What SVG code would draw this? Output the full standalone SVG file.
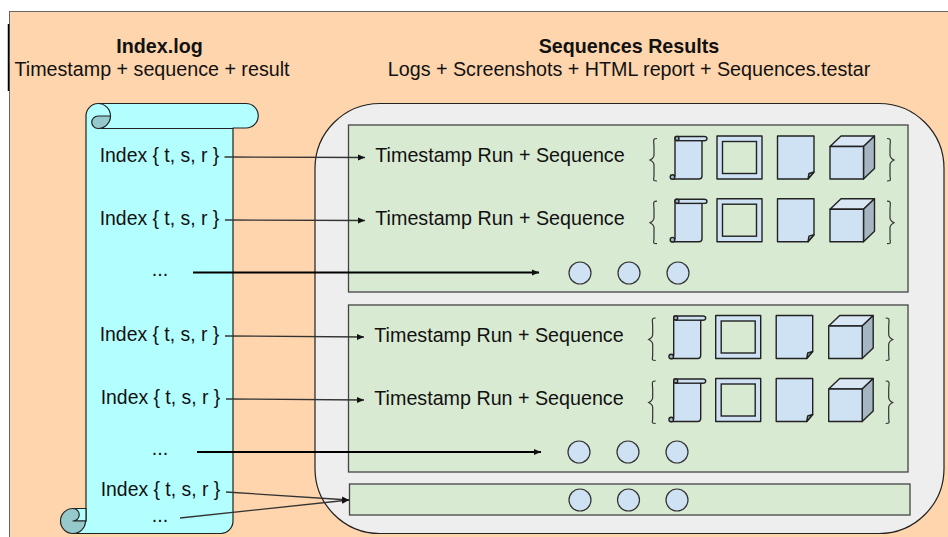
<svg xmlns="http://www.w3.org/2000/svg" width="948" height="537" viewBox="0 0 948 537">
<style>
text{font-family:"Liberation Sans",Arial,sans-serif;font-size:19.7px;fill:#111;text-anchor:middle}
.b{font-weight:bold}
.i{font-size:19.4px}
.s{stroke:#222;stroke-width:1.4;stroke-linejoin:round}
.ic{fill:#cfe2f3}
.dk{fill:#a5b5c2}
.lt{fill:#d9e7f5}
.g{fill:#d9ead3;stroke:#444;stroke-width:1.3}
.c{fill:#cfe2f3;stroke:#333;stroke-width:1.2}
.br{fill:none;stroke:#333;stroke-width:1.2}
.l{fill:none;stroke:#333;stroke-width:1.3}
.h{fill:none;stroke:#000;stroke-width:2}
.sc{stroke:#222;stroke-width:1.200;stroke-linejoin:round}
</style>
<defs>
<marker id="a" markerUnits="userSpaceOnUse" markerWidth="8" markerHeight="8" refX="7" refY="3.500" orient="auto"><path d="M0 0.500L7 3.500L0 6.500Z" fill="#111"/></marker>
<g id="row">
<path class="br" d="M657 138.500C652 138.500 654 141 654 147L654 155C654 158 652 159 650 160C652 161 654 162 654 165L654 175C654 180 652 181 657 181"/>
<path class="br" d="M887 138.500C892 138.500 890 141 890 147L890 155C890 158 892 159 894 160C892 161 890 162 890 165L890 175C890 180 892 181 887 181"/>
<path class="s ic" d="M676 136.500L704 136.500Q707 136.500 707 138.500Q707 140.700 704 140.700L702 140.700L702 176Q702 179 699 179L672 179L675 176L675 138Q675 136.500 676 136.500Z"/>
<path class="s" fill="none" d="M676 140.700L702 140.700"/>
<circle class="s dk" cx="677" cy="138.500" r="2"/>
<circle class="s dk" cx="672.500" cy="177" r="2.300"/>
<rect class="s ic" x="717" y="136" width="45" height="43"/>
<rect x="722.500" y="141.500" width="34" height="32" fill="#d9ead3" stroke="#222" stroke-width="1.400"/>
<path class="s ic" d="M777.500 136L814 136L814 172L808 179L777.500 179Z"/>
<path class="s dk" d="M814 172L809 173.500L808 179Z"/>
<path class="s lt" d="M830 146.500L841 136L874.500 136L863.500 146.500Z"/>
<path class="s dk" d="M863.500 146.500L874.500 136L874.500 168.500L863.500 179Z"/>
<rect class="s ic" x="830" y="146.500" width="33.500" height="32.500"/>
</g>
</defs>
<rect x="9.500" y="11.500" width="945" height="535" fill="#ffd5ad" stroke="#666" stroke-width="1"/>
<path d="M8.500 24V91" stroke="#000" stroke-width="1.500"/>
<g id="header-left"><text class="b" x="159.500" y="53">Index.log</text><text x="152" y="76">Timestamp + sequence + result</text></g>
<g id="header-right"><text class="b" x="629" y="53">Sequences Results</text><text x="629" y="76">Logs + Screenshots + HTML report + Sequences.testar</text></g>
<g id="index-log">
<path class="sc" fill="#b3ffff" d="M98 103.500L246 103.500A12.250 12.250 0 0 1 246 128L233 128L233 521A12.500 12.500 0 0 1 221 533.500L73 533.500L86 521L86 116A12.500 12.500 0 0 1 98 103.500Z"/>
<path class="sc" fill="none" d="M98 103.500A12.500 12.500 0 0 1 110.500 116M98 128.500L233 128.500"/>
<path class="sc" fill="#95c9cc" d="M98 116L110.500 116A12.500 12.500 0 0 1 98 128.500A6.250 6.250 0 0 1 98 116Z"/>
<path class="sc" fill="#b3ffff" d="M73 508.500L86 508.500L86 521L73 521Z"/>
<path class="sc" fill="#95c9cc" d="M73 508.500A12.500 12.500 0 1 0 85.500 521L73 521A6.250 6.250 0 0 0 73 508.500Z"/>
<text class="i" x="159.500" y="162">Index { t, s, r }</text>
<text class="i" x="159.500" y="225">Index { t, s, r }</text>
<text x="160" y="276">...</text>
<text class="i" x="159.500" y="341">Index { t, s, r }</text>
<text class="i" x="160.500" y="404">Index { t, s, r }</text>
<text x="160" y="455">...</text>
<text class="i" x="160.500" y="496">Index { t, s, r }</text>
<text x="160" y="522">...</text>
</g>
<g id="results">
<rect x="315" y="103.500" width="629" height="430" rx="65" ry="65" fill="#eeeeee" stroke="#222" stroke-width="1.200"/>
</g>
<g id="panel-1"><rect class="g" x="348.500" y="125" width="559.500" height="167"/>
<text x="500" y="162">Timestamp Run + Sequence</text><text x="500" y="225">Timestamp Run + Sequence</text>
<use href="#row"/><use href="#row" y="62.700"/>
<circle class="c" cx="580" cy="273" r="11"/><circle class="c" cx="629" cy="273" r="11"/><circle class="c" cx="678" cy="273" r="11"/></g>
<g id="panel-2"><rect class="g" x="348.500" y="305" width="559.500" height="167"/>
<text x="499" y="342">Timestamp Run + Sequence</text><text x="499" y="405">Timestamp Run + Sequence</text>
<use href="#row" x="-1.300" y="179.500"/><use href="#row" x="-1.300" y="242.500"/>
<circle class="c" cx="579" cy="452" r="11"/><circle class="c" cx="628" cy="452" r="11"/><circle class="c" cx="677" cy="452" r="11"/></g>
<g id="panel-3"><rect class="g" x="349.500" y="484" width="560.500" height="31"/>
<circle class="c" cx="580" cy="500" r="11"/><circle class="c" cx="628.500" cy="500" r="11"/><circle class="c" cx="677" cy="500" r="11"/></g>
<g id="connectors">
<path class="l" marker-end="url(#a)" d="M224.500 157L365 157.500"/>
<path class="l" marker-end="url(#a)" d="M225 220L365 220.500"/>
<path class="h" marker-end="url(#a)" d="M193 272.500L539 272.500"/>
<path class="l" marker-end="url(#a)" d="M225 336L364 337"/>
<path class="l" marker-end="url(#a)" d="M226 399L364 400"/>
<path class="h" marker-end="url(#a)" d="M197 452L541 452"/>
<path class="l" marker-end="url(#a)" d="M226 492L349 500"/>
<path class="l" marker-end="url(#a)" d="M180 518L349 500"/>
</g>
</svg>
